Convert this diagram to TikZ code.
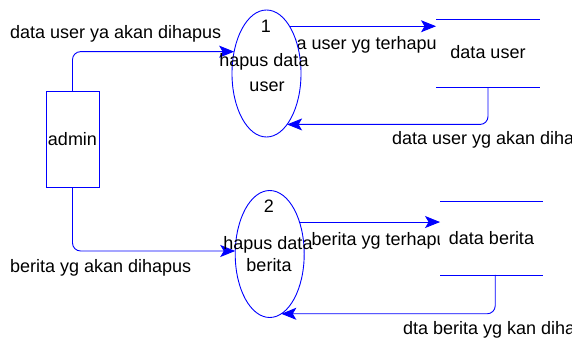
\documentclass[tikz,border=0pt]{standalone}
\usepackage{fontspec}
\setmainfont{Liberation Sans}
\usetikzlibrary{shapes.geometric,arrows.meta}
\begin{document}
\begin{tikzpicture}[x=1pt,y=-1pt,
  every node/.style={inner sep=0pt,outer sep=0pt,font=\fontsize{18}{21}\selectfont},
  lbl/.style={anchor=base west,text=black},
  ctext/.style={anchor=base,text=black},
  proc/.style={ellipse,draw=blue,fill=white,line width=0.9pt,minimum width=69pt,minimum height=127pt},
  store/.style={rectangle,fill=white,anchor=center},
  storeline/.style={draw=blue,line width=0.9pt},
  ent/.style={rectangle,draw=blue,fill=white,line width=0.9pt},
  flow/.style={draw=blue,line width=0.9pt,rounded corners=8pt,-{Stealth[length=15pt,width=12pt,inset=3.5pt]}}]
\useasboundingbox (0,0) rectangle (572,339);
% labels (drawn first, partly hidden by shapes)
\node[lbl] (l1) at (10,38.5) {data user ya akan dihapus};
\node[lbl] (l2) at (271.5,50) {data user yg terhapus};
\node[lbl] (l3) at (392,145) {data user yg akan dihapus};
\node[lbl] (l4) at (10,272) {berita yg akan dihapus};
\node[lbl] (l5) at (311.5,245) {berita yg terhapus};
\node[lbl] (l6) at (403,334) {dta berita yg kan dihapus};
% entity
\node[ent,minimum width=53pt,minimum height=96pt] (a) at (72.5,139) {};
\node[ctext] (at) at (72.5,146) {admin};
% processes
\node[proc] (p1) at (266.5,73.5) {};
\node[proc] (p2) at (269.7,254) {};
% stores
\node[store,minimum width=104pt,minimum height=68pt] (s1) at (488,53.3) {};
\draw[storeline] (s1.north west) -- (s1.north east);
\draw[storeline] (s1.south west) -- (s1.south east);
\node[ctext] (s1t) at (488,59) {data user};
\node[store,minimum width=103.3pt,minimum height=73.3pt] (s2) at (491.7,238.3) {};
\draw[storeline] (s2.north west) -- (s2.north east);
\draw[storeline] (s2.south west) -- (s2.south east);
\node[ctext] (s2t) at (491.5,244) {data berita};
% flows
\draw[flow] (a.north) |- (p1.146.5);
\draw[flow] (p1.64.3) -- (s1.west |- p1.64.3);
\draw[flow] (s1.south) |- (p1.-68.6);
\draw[flow] (a.south) |- (p2.175);
\draw[flow] (p2.47.3) -- (s2.west |- p2.47.3);
\draw[flow] ([xshift=3.5pt]s2.south) |- (p2.-79.6);
% process texts
\node[ctext] (n1) at (266,32.3) {1};
\node[ctext] (p1a) at (264,66.7) {hapus data};
\node[ctext] (p1b) at (267,91.7) {user};
\node[ctext] (n2) at (269,212.7) {2};
\node[ctext] (p2a) at (268,249) {hapus data};
\node[ctext] (p2b) at (269,271.7) {berita};
\end{tikzpicture}
\end{document}
